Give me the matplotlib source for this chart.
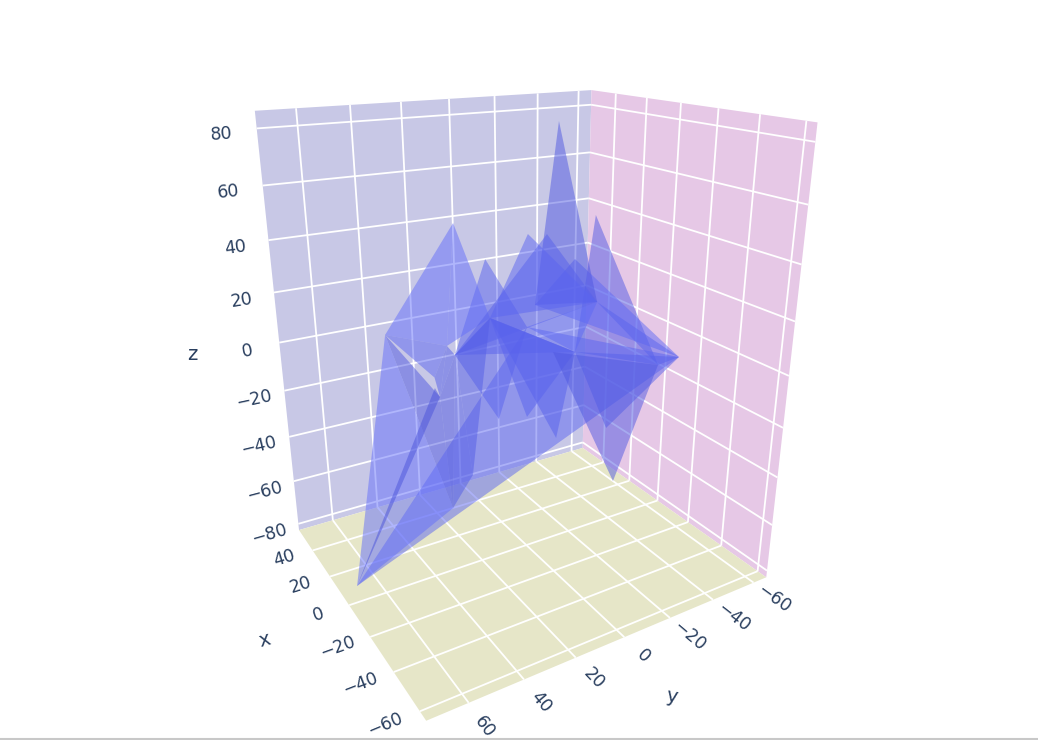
import numpy as np
import matplotlib
matplotlib.use("Agg")
import matplotlib.pyplot as plt
from matplotlib.colors import to_rgb
from matplotlib.lines import Line2D
from mpl_toolkits.mplot3d.art3d import Poly3DCollection, Line3DCollection

# ----------------- data -----------------
x = [5.3, -30.8, -9.7, -0.4, -48.5, -46.7, -0.1, 20.8, -20.9, -10.5, -20.5, -20.8, -13.9, 1.8,
     -2.0, -3.7, 9.8, 1.1, -1.2, 16.8, 5.0, 3.5, -1.3, -39.3, -22.9, -18.6, -14.7, -17.4, -1.2]
y = [69.2, 66.8, 33.1, -12.8, 5.3, -32.1, -41.9, 21.7, 27.8, 5.7, 4.5, -6.5, -4.4, 10.8,
     0.9, -34.7, 27.3, 34.9, 37.8, 14.5, 26.6, 13.0, -30.3, -29.4, 13.6, -8.8, -2.1, 7.1, 37.8]
z = [-80, 30, 55, 83, 62, 8, -66, -70, 45, 48, 50, 40, -30, -25,
     -25, -38, 5, -10, -5, -55, 3, 15, 15, 3, 20, 5, 5, 25, -1]
faces = [(0, 1, 7), (1, 2, 16), (2, 16, 21), (1, 16, 28), (0, 5, 24), (0, 17, 18), (7, 19, 20),
         (19, 21, 20), (1, 17, 7), (20, 17, 7), (8, 20, 24), (13, 20, 24), (14, 21, 25), (12, 21, 25),
         (15, 25, 5), (6, 26, 23), (4, 25, 23), (3, 22, 27), (9, 21, 22), (10, 20, 22), (11, 27, 5),
         (22, 5, 23), (22, 24, 25), (20, 21, 25), (16, 20, 17), (16, 28, 17)]
# plotly lighting makes some faces darker than others
face_light = [1.0, 1.0, 1.0, 0.92, 0.92, 0.75, 0.85, 0.85, 0.8, 0.8, 0.9, 0.9, 0.9, 0.88,
              0.88, 0.8, 0.82, 0.8, 0.92, 0.88, 0.95, 0.9, 0.95, 0.9, 0.85, 0.85]

x_range = (-64.5, 57.0)
y_range = (-66.5, 74.5)
z_range = (-83.0, 86.0)
x_ticks = [-60, -40, -20, 0, 20, 40]
y_ticks = [-60, -40, -20, 0, 20, 40, 60]
z_ticks = [-80, -60, -40, -20, 0, 20, 40, 60, 80]

W, H = 1038, 740
TEXT = "#2a3f5f"
MESH = "#636efa"
FS = 12.5

x0, x1 = x_range
y0, y1 = y_range
z0, z1 = z_range

# camera fit from the seven visible box corners
box_pts = [(x1, y1, z0), (x0, y1, z0), (x0, y0, z0), (x1, y0, z0), (x1, y1, z1), (x1, y0, z1), (x0, y0, z1)]
box_px = [(299, 532), (426, 719), (766, 579), (583, 446), (255, 110), (591, 91), (818, 122)]


def fit_camera(pts, px):
    rows = []
    for (X, Y, Z), (u, v) in zip(pts, px):
        rows.append([X, Y, Z, 1, 0, 0, 0, 0, -u * X, -u * Y, -u * Z, -u])
        rows.append([0, 0, 0, 0, X, Y, Z, 1, -v * X, -v * Y, -v * Z, -v])
    _, _, vt = np.linalg.svd(np.array(rows, dtype=float))
    P = vt[-1].reshape(3, 4)
    return P / P[2, 3]


P = fit_camera(box_pts, box_px)

fig = plt.figure(figsize=(W / 100, H / 100), dpi=100, facecolor="white")
ax = fig.add_axes([0, (H - W) / 2 / H, 1, W / H], projection="3d")
ax.set_axis_off()
ax.computed_zorder = False


def camera_matrix():
    # pixels of the picture -> 2D view limits of the square axes
    vl = ax.viewLim
    sx = vl.width / W
    sy = vl.height / W
    top = H + (W - H) / 2
    r0 = P[0] * sx + P[2] * vl.x0
    r1 = (top * P[2] - P[1]) * sy + P[2] * vl.y0
    r2 = P[2] + np.array([0, 0, 0, 1.0])
    return np.array([r0, r1, r2, P[2]])


ax.get_proj = camera_matrix


def project(X, Y, Z):
    u, v, w = P @ np.array([X, Y, Z, 1.0])
    return u / w, v / w


# ----------------- panes -----------------
panes = [
    ([(x1, y0, z0), (x1, y1, z0), (x1, y1, z1), (x1, y0, z1)], (200 / 255, 200 / 255, 230 / 255)),
    ([(x0, y0, z0), (x1, y0, z0), (x1, y0, z1), (x0, y0, z1)], (230 / 255, 200 / 255, 230 / 255)),
    ([(x0, y0, z0), (x1, y0, z0), (x1, y1, z0), (x0, y1, z0)], (230 / 255, 230 / 255, 200 / 255)),
]
for verts, col in panes:
    ax.add_collection3d(Poly3DCollection([verts], facecolors=[col], edgecolors="none", zorder=1))

# ----------------- grid -----------------
segs = []
for t in x_ticks:
    segs.append([(t, y0, z0), (t, y1, z0)])
    segs.append([(t, y0, z0), (t, y0, z1)])
for t in y_ticks:
    segs.append([(x0, t, z0), (x1, t, z0)])
    segs.append([(x1, t, z0), (x1, t, z1)])
for t in z_ticks:
    segs.append([(x1, y0, t), (x1, y1, t)])
    segs.append([(x0, y0, t), (x1, y0, t)])
ax.add_collection3d(Line3DCollection(segs, colors="white", linewidths=1.3, zorder=2))

# ----------------- mesh -----------------
r, g, b = to_rgb(MESH)
surf = ax.plot_trisurf(x, y, z, triangles=faces, color=MESH, alpha=0.5, shade=False, linewidth=0, zorder=3)
surf.set_facecolor([(r * k, g * k, b * (0.5 + 0.5 * k), 0.5 + (1 - k) * 0.8) for k in face_light])


def fmt(t):
    return str(t).replace("-", "\u2212")


def label3d(X, Y, Z, s, direction):
    # tick labels lie along a box edge, so the rotation comes from the projected edge
    u, v = project(X, Y, Z)
    u2, v2 = project(X + direction[0], Y + direction[1], Z + direction[2])
    rot = np.degrees(np.arctan2(v - v2, u2 - u))
    fig.text(u / W, 1 - v / H, s, color=TEXT, fontsize=FS, ha="center", va="center",
             rotation=rot, rotation_mode="anchor")


# ----------------- tick labels -----------------
for t in x_ticks:
    label3d(t, y1 + 11.5, z0 + 0.5, fmt(t), (0, -1, 0))
for t in y_ticks:
    label3d(x0 - 11, t + 0.5, z0, fmt(t), (-1, 0, 0))
for t in z_ticks:
    label3d(x1, y1 + 12, t - 1, fmt(t), (0, -1, 0))

# ----------------- axis titles -----------------
fig.text(265 / W, 1 - 640 / H, "x", color=TEXT, fontsize=14, ha="center", va="center", rotation=15)
fig.text(672 / W, 1 - 697 / H, "y", color=TEXT, fontsize=14, ha="center", va="center", rotation=-10)
fig.text(192 / W, 1 - 354 / H, "z", color=TEXT, fontsize=14, ha="center", va="center")

# page edge at the bottom of the screenshot
fig.add_artist(Line2D([0, 1], [1.0 / H, 1.0 / H], color="#c8c8c8", lw=1.5, transform=fig.transFigure))

fig.savefig("out.png", dpi=100)
